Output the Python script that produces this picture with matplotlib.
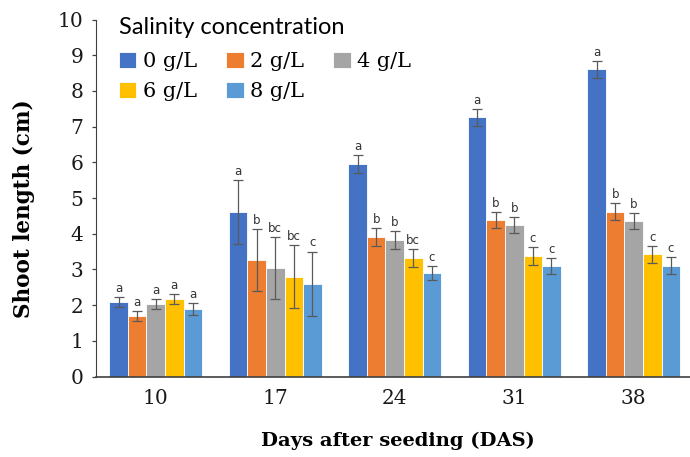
import matplotlib
matplotlib.use("Agg")
import matplotlib.pyplot as plt
import numpy as np

days = ["10", "17", "24", "31", "38"]
series_names = ["0 g/L", "2 g/L", "4 g/L", "6 g/L", "8 g/L"]
colors = ["#4472C4", "#ED7D31", "#A5A5A5", "#FFC000", "#5B9BD5"]

mean_0 = [2.09, 4.60, 5.95, 7.26, 8.60]
mean_2 = [1.69, 3.26, 3.91, 4.38, 4.62]
mean_4 = [2.03, 3.04, 3.82, 4.24, 4.36]
mean_6 = [2.18, 2.79, 3.31, 3.37, 3.42]
mean_8 = [1.89, 2.60, 2.90, 3.10, 3.10]

err_0 = [0.14, 0.90, 0.26, 0.24, 0.23]
err_2 = [0.14, 0.87, 0.26, 0.23, 0.23]
err_4 = [0.15, 0.87, 0.26, 0.22, 0.22]
err_6 = [0.14, 0.88, 0.25, 0.25, 0.23]
err_8 = [0.16, 0.90, 0.20, 0.22, 0.24]

let_0 = ["a", "a", "a", "a", "a"]
let_2 = ["a", "b", "b", "b", "b"]
let_4 = ["a", "bc", "b", "b", "b"]
let_6 = ["a", "bc", "bc", "c", "c"]
let_8 = ["a", "c", "c", "c", "c"]

means = [mean_0, mean_2, mean_4, mean_6, mean_8]
errs = [err_0, err_2, err_4, err_6, err_8]
letters = [let_0, let_2, let_4, let_6, let_8]

W, H = 690, 457
fig = plt.figure(figsize=(W / 100, H / 100), dpi=100)
ax = fig.add_axes([96 / W, (H - 376.5) / H, 597.5 / W, 357 / H])

x = np.arange(len(days))
bw = 0.155
handles = []
for i, (m, e, lt) in enumerate(zip(means, errs, letters)):
    pos = x + (i - 2) * bw
    b = ax.bar(pos, m, width=bw, color=colors[i], edgecolor="white",
               linewidth=0.6, label=series_names[i], zorder=2)
    handles.append(b)
    ax.errorbar(pos, m, yerr=e, fmt="none", ecolor="#5a5a5a",
                elinewidth=0.9, capsize=3.5, capthick=0.9, zorder=3)
    for xp, yv, ev, s in zip(pos, m, e, lt):
        ax.annotate(s, (xp, yv + ev), xytext=(0, 1.5), textcoords="offset points",
                    ha="center", va="bottom", fontsize=8.5,
                    family="DejaVu Sans", color="#333333")

ax.set_xlim(-0.5, len(days) - 0.5)
ax.set_ylim(0, 10)
ax.set_yticks(range(0, 11))
ax.set_xticks(x)
ax.set_xticklabels(days)
ax.spines["top"].set_visible(False)
ax.spines["right"].set_visible(False)
ax.spines["left"].set_color("#404040")
ax.spines["bottom"].set_color("#404040")
ax.spines["bottom"].set_linewidth(1.2)
ax.tick_params(axis="y", length=3, width=0.9, color="#404040", pad=6,
               labelsize=14.5, labelcolor="#1a1a1a")
ax.tick_params(axis="x", length=0, pad=9, labelsize=14.5, labelcolor="#1a1a1a")
for lab in ax.get_xticklabels() + ax.get_yticklabels():
    lab.set_family("DejaVu Serif")

fig.text(24 / W, 1 - 209 / H, "Shoot length (cm)", rotation=90, ha="center",
         va="center", fontsize=15.5, fontweight="bold", family="DejaVu Serif")
fig.text(398 / W, 1 - 441 / H, "Days after seeding (DAS)", ha="center",
         va="center", fontsize=14, fontweight="bold", family="DejaVu Serif")

order = [0, 3, 1, 4, 2]
leg = ax.legend([handles[k] for k in order], [series_names[k] for k in order],
                ncol=3, loc="upper left", bbox_to_anchor=(100 / W, 1 + 2 / H),
                bbox_transform=fig.transFigure, frameon=False,
                title="Salinity concentration", alignment="left",
                prop={"family": "DejaVu Serif", "size": 15},
                handlelength=0.85, handleheight=0.85, handletextpad=0.3,
                columnspacing=1.4, labelspacing=0.5)
leg.get_title().set_family("Lato")
leg.get_title().set_fontsize(17)
leg._legend_box.sep = 10

fig.savefig("out.png", dpi=100)
